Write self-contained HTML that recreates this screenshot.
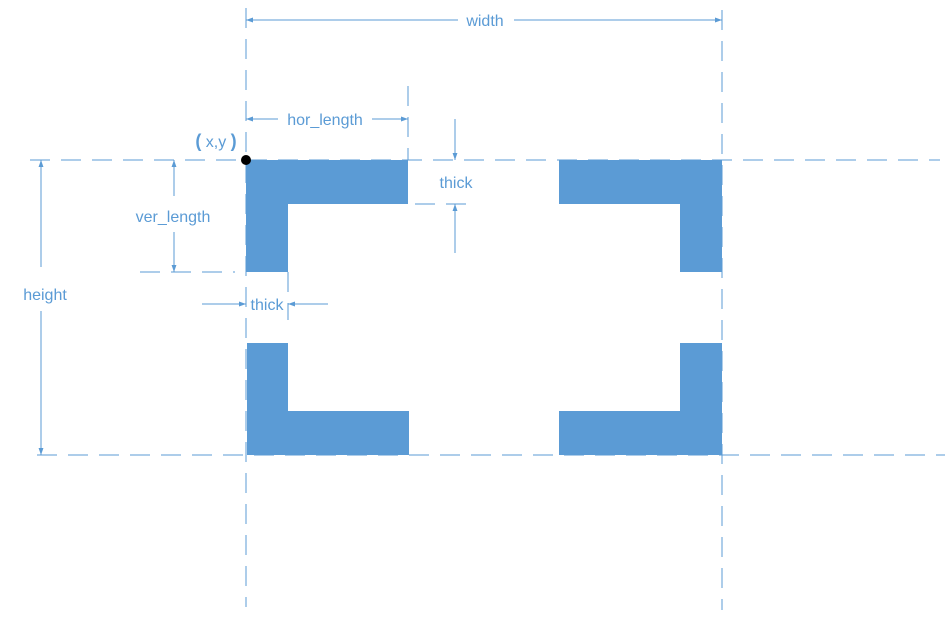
<!DOCTYPE html>
<html><head><style>body{margin:0;background:#fff}svg{display:block}</style></head><body>
<svg width="949" height="617" xmlns="http://www.w3.org/2000/svg" font-family="Liberation Sans, sans-serif" font-size="16" fill="#5b9bd5">
<defs><marker id="a" viewBox="0 0 10 10" refX="10" refY="5" markerWidth="9" markerHeight="7" markerUnits="userSpaceOnUse" orient="auto"><path d="M0,1.5L10,5L0,8.5z" fill="#5b9bd5"/></marker></defs>
<g stroke="#5b9bd5" stroke-width="1" stroke-dasharray="20,11" fill="none">
<line x1="246" y1="8" x2="246" y2="607"/>
<line x1="722" y1="10" x2="722" y2="610"/>
<line x1="30" y1="160" x2="940" y2="160"/>
<line x1="37" y1="455" x2="945" y2="455"/>
<line x1="408" y1="86" x2="408" y2="160"/>
<line x1="415" y1="204" x2="467" y2="204"/>
<line x1="140" y1="272" x2="235" y2="272"/>
<line x1="288" y1="272" x2="288" y2="320"/>
</g>
<g fill="#5b9bd5">
<rect x="246" y="160" width="162" height="44"/><rect x="246" y="204" width="42" height="68"/>
<rect x="247" y="343" width="41" height="68"/><rect x="247" y="411" width="162" height="44"/>
<rect x="559" y="160" width="163" height="44"/><rect x="680" y="204" width="42" height="68"/>
<rect x="680" y="343" width="42" height="68"/><rect x="559" y="411" width="163" height="44"/>
</g>
<g stroke="#5b9bd5" stroke-width="1" marker-end="url(#a)">
<line x1="458" y1="20" x2="246" y2="20"/><line x1="514" y1="20" x2="722" y2="20"/>
<line x1="278" y1="119" x2="246" y2="119"/><line x1="372" y1="119" x2="408" y2="119"/>
<line x1="455" y1="119" x2="455" y2="160"/><line x1="455" y1="253" x2="455" y2="204"/>
<line x1="174" y1="196" x2="174" y2="160"/><line x1="174" y1="232" x2="174" y2="272"/>
<line x1="41" y1="267" x2="41" y2="160"/><line x1="41" y1="311" x2="41" y2="455"/>
<line x1="202" y1="304" x2="246" y2="304"/><line x1="328" y1="304" x2="288" y2="304"/>
</g>
<circle cx="246" cy="160" r="5" fill="#000"/>
<g text-anchor="middle">
<text x="485" y="26">width</text>
<text x="325" y="125">hor_length</text>
<text x="456" y="188">thick</text>
<text x="173" y="222">ver_length</text>
<text x="45" y="300">height</text>
<text x="267" y="310">thick</text>
<text x="216" y="147"><tspan font-size="18" font-weight="bold">(</tspan> x,y <tspan font-size="18" font-weight="bold">)</tspan></text>
</g>
</svg>
</body></html>
